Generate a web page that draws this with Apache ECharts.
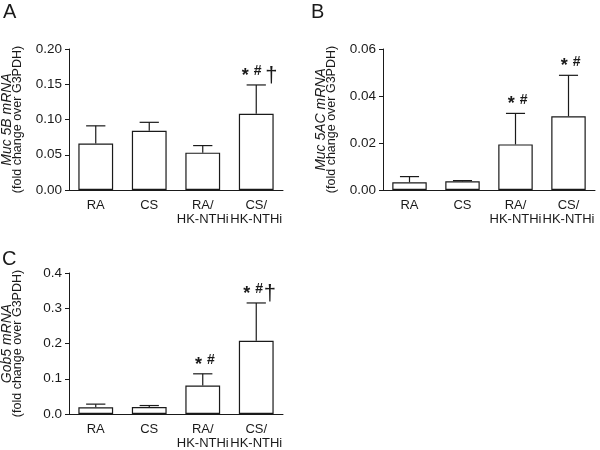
<!DOCTYPE html>
<html>
<head>
<meta charset="utf-8">
<script src="https://cdn.jsdelivr.net/npm/echarts@6/dist/echarts.min.js"></script>
<style>html,body{margin:0;padding:0;background:#fff;}#c{width:600px;height:450px;}</style>
</head>
<body>
<div id="c"></div>
<script>
// ---- data ----
const categories = ['RA', 'CS', 'RA/\nHK-NTHi', 'CS/\nHK-NTHi'];

const muc5bMean = [0.066, 0.084, 0.053, 0.108];
const muc5bUpper = [0.091, 0.096, 0.063, 0.149];
const muc5bMarks = ['', '', '', '*# †'];

const muc5acMean = [0.0033, 0.0037, 0.0194, 0.0314];
const muc5acUpper = [0.0057, 0.0040, 0.0326, 0.0488];
const muc5acMarks = ['', '', '*#', '*#'];

const gob5Mean = [0.019, 0.020, 0.081, 0.208];
const gob5Upper = [0.028, 0.024, 0.114, 0.315];
const gob5Marks = ['', '', '*#', '*#†'];

const yTicksA = { min: 0, max: 0.20, interval: 0.05, decimals: 2 };
const yTicksB = { min: 0, max: 0.06, interval: 0.02, decimals: 2 };
const yTicksC = { min: 0, max: 0.4, interval: 0.1, decimals: 1 };

const panels = [
  { label: 'A', gene: 'Muc 5B mRNA', mean: muc5bMean, upper: muc5bUpper, marks: muc5bMarks, ticks: yTicksA },
  { label: 'B', gene: 'Muc 5AC mRNA', mean: muc5acMean, upper: muc5acUpper, marks: muc5acMarks, ticks: yTicksB },
  { label: 'C', gene: 'Gob5 mRNA', mean: gob5Mean, upper: gob5Upper, marks: gob5Marks, ticks: yTicksC }
];

// ---- styling / layout ----
const FONT = 'Liberation Sans, Arial, Helvetica, sans-serif';
const INK = '#1a1a1a';
const grids = [
  { left: 69, top: 49, width: 214, height: 141 },
  { left: 383, top: 49, width: 212, height: 141 },
  { left: 69, top: 273, width: 214, height: 141 }
];
const labelPos = [
  { left: 3, top: 2 },
  { left: 311, top: 2 },
  { left: 2, top: 249 }
];
const glyph = {
  '*': { size: 18, weight: 'bold', dy: -9, adv: 12.5 },
  '#': { size: 14, weight: 'bold', dy: -13.5, adv: 10.5 },
  '†': { size: 22, weight: 'normal', dy: -9.5, adv: 10 },
  ' ': { adv: 3 }
};

const chart = echarts.init(document.getElementById('c'), null, { renderer: 'canvas' });

const option = {
  animation: false,
  backgroundColor: '#fff',
  textStyle: { fontFamily: FONT, color: INK },
  grid: grids.map(g => Object.assign({ outerBoundsMode: 'none', containLabel: false }, g)),
  graphic: panels.map((p, i) => ({
    type: 'text', left: labelPos[i].left, top: labelPos[i].top,
    style: { text: p.label, fontSize: 20, fontFamily: FONT, fill: INK }
  })),
  xAxis: panels.map((p, i) => ({
    type: 'category', gridIndex: i, data: categories,
    axisLine: { lineStyle: { color: INK, width: 1 } },
    axisTick: { alignWithLabel: true, length: 4, lineStyle: { color: INK } },
    axisLabel: { fontSize: 13, color: INK, margin: 8, lineHeight: 14, interval: 0, fontFamily: FONT }
  })),
  yAxis: panels.map((p, i) => ({
    type: 'value', gridIndex: i,
    min: p.ticks.min, max: p.ticks.max, interval: p.ticks.interval,
    splitLine: { show: false },
    axisLine: { show: true, lineStyle: { color: INK, width: 1 } },
    axisTick: { show: true, length: 4, lineStyle: { color: INK } },
    axisLabel: { fontSize: 13.5, color: INK, margin: 7, fontFamily: FONT,
      formatter: v => v.toFixed(p.ticks.decimals) },
    name: '{i|' + p.gene + '}\n{n|(fold change over G3PDH)}',
    nameLocation: 'middle', nameRotate: 90, nameGap: 46,
    nameTextStyle: {
      rich: {
        i: { fontStyle: 'italic', fontSize: 14, lineHeight: 10, color: INK, fontFamily: FONT },
        n: { fontSize: 12.5, lineHeight: 11, color: INK, fontFamily: FONT }
      }
    }
  })),
  series: []
};

panels.forEach((p, i) => {
  option.series.push({
    type: 'bar', xAxisIndex: i, yAxisIndex: i,
    data: p.mean, barWidth: '65%',
    itemStyle: { color: '#fff', borderColor: INK, borderWidth: 1.2 },
    z: 2
  });
  option.series.push({
    type: 'custom', xAxisIndex: i, yAxisIndex: i, z: 3,
    data: p.mean.map((m, k) => [k, m, p.upper[k]]),
    renderItem: function (params, api) {
      const k = api.value(0);
      const pm = api.coord([k, api.value(1)]);
      const pu = api.coord([k, api.value(2)]);
      const band = api.size([1, 0])[0];
      const half = band * 0.18;
      const children = [
        { type: 'line', shape: { x1: pm[0], y1: pm[1], x2: pu[0], y2: pu[1] },
          style: { stroke: INK, lineWidth: 1.2 } },
        { type: 'line', shape: { x1: pu[0] - half, y1: pu[1], x2: pu[0] + half, y2: pu[1] },
          style: { stroke: INK, lineWidth: 1.2 } }
      ];
      const mark = p.marks[k];
      if (mark) {
        const chars = mark.split('');
        const centers = [];
        let x = 0;
        chars.forEach((ch) => {
          centers.push(x);
          x += glyph[ch].adv;
        });
        const visible = chars.map((ch, j) => ({ ch, c: centers[j] })).filter(o => o.ch !== ' ');
        const mid = (visible[0].c + visible[visible.length - 1].c) / 2;
        const shift = pu[0] + 2 - mid;
        visible.forEach(o => {
          const g = glyph[o.ch];
          children.push({
            type: 'text',
            style: {
              text: o.ch, x: o.c + shift, y: pu[1] + g.dy,
              align: 'center', verticalAlign: 'middle',
              fontSize: g.size, fontWeight: g.weight, fontFamily: FONT, fill: INK
            }
          });
        });
      }
      return { type: 'group', children };
    }
  });
});

chart.setOption(option);
</script>
</body>
</html>
